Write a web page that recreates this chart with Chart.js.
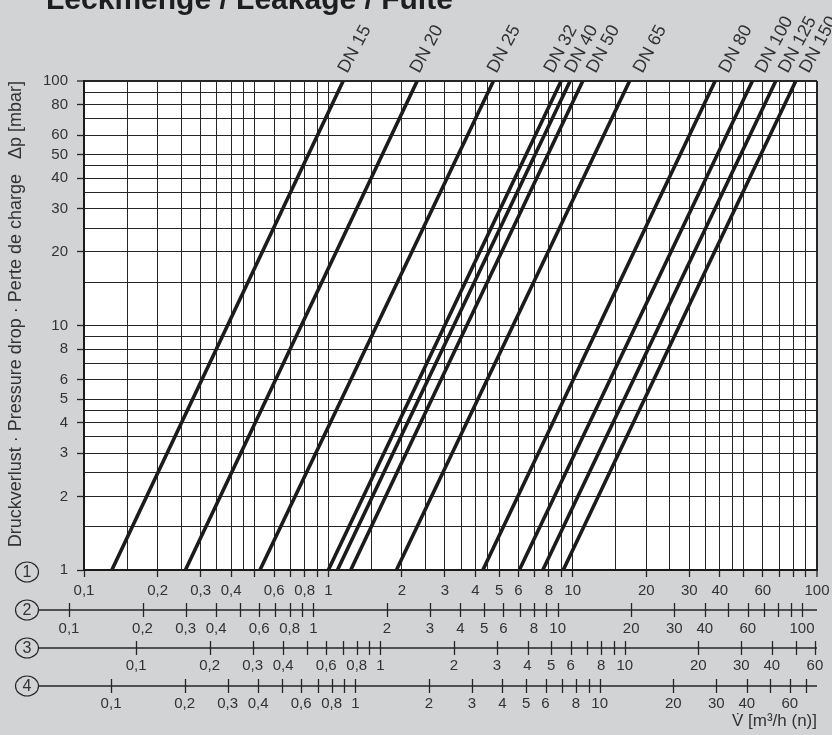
<!DOCTYPE html>
<html lang="de">
<head>
  <meta charset="UTF-8" />
  <title>Leckmenge / Leakage / Fuite</title>
  <script src="https://cdn.jsdelivr.net/npm/chart.js"></script>
  <style>
    body {
      margin: 0;
      padding: 0;
      background: #d2d3d5;
    }

    .chart-box {
      width: 832px;
      height: 735px;
      position: relative;
    }
  </style>
</head>
<body>
  <div class="chart-box">
    <canvas id="leakChart"></canvas>
  </div>

  <script>
    // Leakage lines: flow (scale 1, m3/h) read at 1 mbar and at 100 mbar
    const sizes = ['DN 15', 'DN 20', 'DN 25', 'DN 32', 'DN 40', 'DN 50', 'DN 65', 'DN 80', 'DN 100', 'DN 125', 'DN 150'];
    const flowAt1 = [0.13, 0.26, 0.525, 1.0, 1.09, 1.235, 1.9, 4.29, 6.05, 7.55, 9.15];
    const flowAt100 = [1.15, 2.31, 4.74, 8.97, 9.76, 11.0, 17.1, 38.3, 54.4, 67.8, 81.9];
    const dpEnds = [1, 100];

    // Tick labels
    const dpLabels = [1, 2, 3, 4, 5, 6, 8, 10, 20, 30, 40, 50, 60, 80, 100];
    const labels1 = [0.1, 0.2, 0.3, 0.4, 0.6, 0.8, 1, 2, 3, 4, 5, 6, 8, 10, 20, 30, 40, 60, 100];
    const labels2 = [0.1, 0.2, 0.3, 0.4, 0.6, 0.8, 1, 2, 3, 4, 5, 6, 8, 10, 20, 30, 40, 60, 100];
    const labels3 = [0.1, 0.2, 0.3, 0.4, 0.6, 0.8, 1, 2, 3, 4, 5, 6, 8, 10, 20, 30, 40, 60];
    const labels4 = [0.1, 0.2, 0.3, 0.4, 0.6, 0.8, 1, 2, 3, 4, 5, 6, 8, 10, 20, 30, 40, 60];

    // Flow scales 1-4: value at the left edge of the plot, and last tick
    const scaleMin = [0.1, 0.1152, 0.0612, 0.0775];
    const lastTick = [100, 100, 60, 70];

    const gridMantissas = [1, 1.5, 2, 2.5, 3, 3.5, 4, 4.5, 5, 6, 7, 8, 9];
    const tickMantissas = [1, 2, 3, 4, 5, 6, 7, 8, 9];

    const FONT = "'Liberation Sans', Arial, Helvetica, sans-serif";
    const INK = '#262626';
    const TEXT = '#333';

    function logSteps(from, to, mantissas) {
      const out = [];
      for (let e = -2; e <= 3; e++) {
        for (const m of mantissas) {
          const v = +(m * Math.pow(10, e)).toPrecision(6);
          if (v >= from * 0.9999 && v <= to * 1.0001) out.push(v);
        }
      }
      return out;
    }

    const has = (list, v) => list.some(u => Math.abs(u / v - 1) < 1e-6);
    const fmt = v => String(v).replace('.', ',');
    const isWhole = v => has(logSteps(0.01, 1000, tickMantissas), v);

    // Secondary flow scales (2-4) under the main one
    function auxScale(n, height, padding) {
      return {
        type: 'logarithmic',
        position: 'bottom',
        weight: n,
        min: scaleMin[n - 1],
        max: scaleMin[n - 1] * 1000,
        afterBuildTicks: s => {
          s.ticks = logSteps(0.1, lastTick[n - 1], tickMantissas).map(v => ({ value: v }));
        },
        afterFit: s => {
          s.height = height;
          s.paddingLeft = 0;
          s.paddingRight = 0;
        },
        grid: { display: false, drawTicks: false, tickLength: 0 },
        border: { display: false },
        ticks: {
          autoSkip: false,
          maxRotation: 0,
          minRotation: 0,
          padding: padding,
          color: TEXT,
          font: { size: 15 },
          callback: v => has([labels1, labels2, labels3, labels4][n - 1], v) ? fmt(v) : ''
        }
      };
    }

    // Background, title, line names, scale lines and numbers
    const decor = {
      id: 'decor',
      beforeDraw(chart) {
        const { ctx, chartArea: a } = chart;
        ctx.save();
        ctx.fillStyle = '#fff';
        ctx.fillRect(a.left, a.top, a.right - a.left, a.bottom - a.top);
        ctx.restore();
      },
      afterDraw(chart) {
        const { ctx, chartArea: a, scales } = chart;
        ctx.save();

        ctx.fillStyle = '#1e1e1e';
        ctx.font = 'bold 30px ' + FONT;
        ctx.textAlign = 'left';
        ctx.textBaseline = 'alphabetic';
        ctx.fillText('Leckmenge / Leakage / Fuite', 46, 9);

        // names at the top end of each line
        const nudge = [-7, -9, -8, -19, -7, 2, 2, 2, 1, 1, 2];
        ctx.fillStyle = TEXT;
        ctx.font = '18px ' + FONT;
        sizes.forEach((name, i) => {
          const x = scales.x.getPixelForValue(flowAt100[i]);
          const y = scales.y.getPixelForValue(dpEnds[1]);
          ctx.save();
          ctx.translate(x + nudge[i] + 11, y - 7);
          ctx.rotate(-62 * Math.PI / 180);
          ctx.fillText(name, 0, 0);
          ctx.restore();
        });

        // lines and crossing ticks of scales 2-4
        ctx.strokeStyle = INK;
        ['x2', 'x3', 'x4'].forEach(id => {
          const s = scales[id];
          const yl = s.top + 7;
          ctx.lineWidth = 1.6;
          ctx.beginPath();
          ctx.moveTo(38, yl);
          ctx.lineTo(a.right, yl);
          ctx.stroke();
          ctx.lineWidth = 1.3;
          s.ticks.forEach(t => {
            const px = Math.round(s.getPixelForValue(t.value)) + 0.5;
            ctx.beginPath();
            ctx.moveTo(px, s.top);
            ctx.lineTo(px, s.top + 14);
            ctx.stroke();
          });
        });

        // circled scale numbers
        const rows = [a.bottom + 2, scales.x2.top + 7, scales.x3.top + 7, scales.x4.top + 7];
        ctx.font = '16px ' + FONT;
        ctx.textAlign = 'center';
        ctx.textBaseline = 'middle';
        rows.forEach((yc, i) => {
          ctx.fillStyle = '#d2d3d5';
          ctx.lineWidth = 1.2;
          ctx.beginPath();
          ctx.ellipse(27, yc, 11.5, 10, 0, 0, 2 * Math.PI);
          ctx.fill();
          ctx.stroke();
          ctx.fillStyle = TEXT;
          ctx.fillText(String(i + 1), 27, yc + 1);
        });

        ctx.restore();
      }
    };

    Chart.defaults.font.family = FONT;

    const ctx = document.getElementById('leakChart').getContext('2d');
    const leakChart = new Chart(ctx, {
      type: 'scatter',
      data: {
        datasets: sizes.map((name, i) => ({
          label: name,
          data: [
            { x: flowAt1[i], y: dpEnds[0] },
            { x: flowAt100[i], y: dpEnds[1] }
          ],
          showLine: true,
          borderColor: '#1b1b1b',
          borderWidth: 3.6,
          pointRadius: 0
        }))
      },
      options: {
        responsive: true,
        maintainAspectRatio: false,
        animation: false,
        layout: { padding: { top: 81, right: 15, bottom: 0, left: 0 } },
        plugins: {
          legend: { display: false },
          tooltip: { enabled: false }
        },
        scales: {
          x: {
            type: 'logarithmic',
            position: 'bottom',
            weight: 1,
            min: scaleMin[0],
            max: scaleMin[0] * 1000,
            afterBuildTicks: s => {
              s.ticks = logSteps(0.1, 100, gridMantissas).map(v => ({ value: v }));
            },
            afterFit: s => {
              s.height = 33;
              s.paddingLeft = 0;
              s.paddingRight = 0;
            },
            grid: {
              color: INK,
              lineWidth: c => (c.tick && c.tick.value === 100 ? 2 : 1),
              tickLength: 7,
              tickWidth: 1.3,
              tickColor: c => (c.tick && isWhole(c.tick.value) ? INK : 'rgba(0,0,0,0)')
            },
            border: { color: '#1a1a1a', width: 2 },
            ticks: {
              autoSkip: false,
              maxRotation: 0,
              minRotation: 0,
              padding: 5,
              color: TEXT,
              font: { size: 15 },
              callback: v => (has(labels1, v) ? fmt(v) : '')
            }
          },
          x2: auxScale(2, 38, 17),
          x3: auxScale(3, 38, 16),
          x4: Object.assign(auxScale(4, 56, 16), {
            title: {
              display: true,
              text: 'V\u0307 [m³/h (n)]',
              align: 'end',
              color: TEXT,
              font: { size: 17 },
              padding: { top: 0, bottom: 3 }
            }
          }),
          y: {
            type: 'logarithmic',
            position: 'left',
            min: dpEnds[0],
            max: dpEnds[1],
            afterBuildTicks: s => {
              s.ticks = logSteps(1, 100, gridMantissas).map(v => ({ value: v }));
            },
            afterFit: s => {
              s.width = 84;
              s.paddingTop = 0;
              s.paddingBottom = 0;
            },
            grid: {
              color: INK,
              lineWidth: c => (c.tick && c.tick.value === 100 ? 2 : 1),
              tickLength: 7,
              tickWidth: 1.3,
              tickColor: c => (c.tick && has(dpLabels, c.tick.value) ? INK : 'rgba(0,0,0,0)')
            },
            border: { color: '#1a1a1a', width: 2 },
            ticks: {
              autoSkip: false,
              padding: 9,
              color: TEXT,
              font: { size: 15 },
              callback: v => (has(dpLabels, v) ? fmt(v) : '')
            },
            title: {
              display: true,
              text: 'Druckverlust · Pressure drop · Perte de charge   \u0394p [mbar]',
              align: 'end',
              color: TEXT,
              font: { size: 18 },
              padding: { top: 5, bottom: 0 }
            }
          }
        }
      },
      plugins: [decor]
    });
  </script>
</body>
</html>
